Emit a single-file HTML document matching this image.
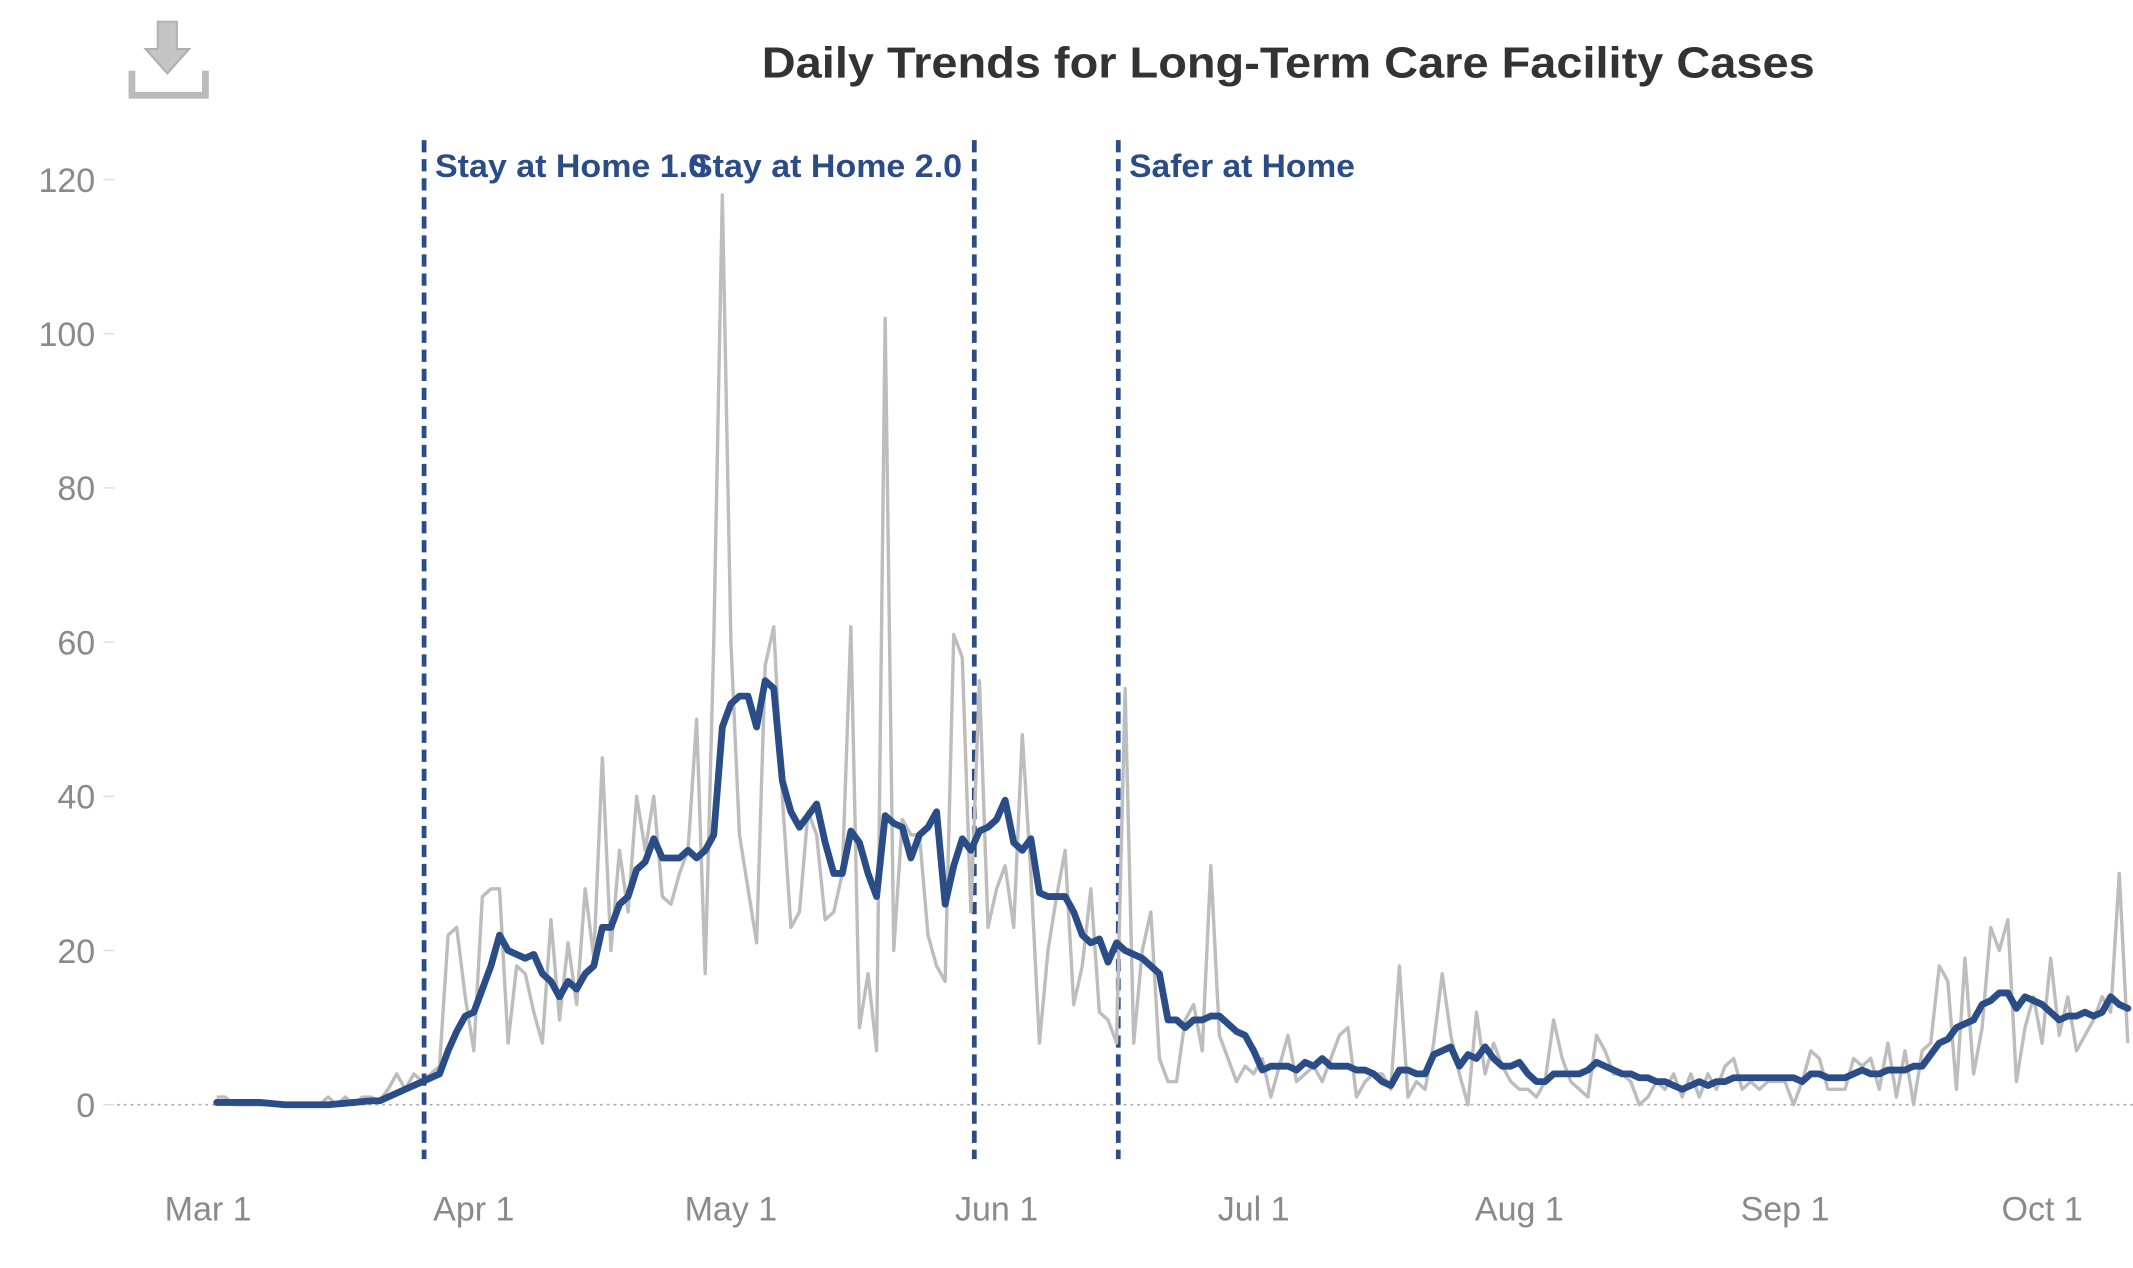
<!DOCTYPE html>
<html><head><meta charset="utf-8"><style>
html,body{margin:0;padding:0;background:#fff;}
svg{display:block;}
</style></head><body>
<svg id="chart" width="2133" height="1268" viewBox="0 0 1568 932" preserveAspectRatio="none" xmlns="http://www.w3.org/2000/svg" font-family="Liberation Sans, sans-serif">
<g>
<path d="M116 16 h14 v20 h9 l-16 18 l-16 -18 h9 z" fill="#c4c4c4" stroke="#b0b0b0" stroke-width="1.5"/>
<path d="M97 52 v18 h54 v-18" fill="none" stroke="#bbb" stroke-width="5"/>
</g>
<text x="560" y="57" textLength="774" lengthAdjust="spacingAndGlyphs" font-size="32" font-weight="bold" fill="#333">Daily Trends for Long-Term Care Facility Cases</text>
<g id="yaxis"></g>
<g id="xaxis"></g>
<g id="events"></g>
<g id="series"></g>
</svg>
<script>
const yTicks=[0,20,40,60,80,100,120];
const xTickLabels=["Mar 1","Apr 1","May 1","Jun 1","Jul 1","Aug 1","Sep 1","Oct 1"];
const xTickDays=[0,31,61,92,122,153,184,214];
const eventDays=[25.2,89.4,106.2];
const eventLabels=["Stay at Home 1.0","Stay at Home 2.0","Safer at Home"];
const dailyCases=[1,1,0,0,0,0,0,0,0,0,0,0,0,1,0,1,0,1,1,0.5,
2,4,2,4,3,4,5,22,23,14,7,27,28,28,8,18,17,12,8,24,11,21,13,28,19,45,20,33,25,40,33,40,27,26,30,33,
50,17,60,118,60,35,28,21,57,62,40,23,25,38,35,24,25,30,62,10,17,7,102,20,37,35,35,22,18,16,61,58,25,55,23,28,31,23,48,30,8,20,27,33,13,18,28,12,11,8,54,8,20,25,6,3,3,11,13,7,31,9,6,3,5,4,6,1,5,9,3,4,5,3,6,9,10,1,3,4,4,2,18,1,3,2,8,17,9,4,0,12,4,8,5,3,2,2,1,3,11,6,3,2,1,9,7,4,4,3,0,1,3,2,4,1,4,1,4,2,5,6,2,3,2,3,3,3,0,3,7,6,2,2,2,6,5,6,2,8,1,7,0,7,8,18,16,2,19,4,10,23,20,24,3,10,14,8,19,9,14,7,9,11,14,12,30,8];
const avgCases=[0.3,0.3,0.3,0.3,0.3,0.3,0.2,0.1,0,0,0,0,0,0,0.1,0.2,0.3,0.4,0.5,0.5,
1,1.5,2,2.5,3,3.5,4,
7,9.5,11.5,12,15,18,22,20,19.5,19,19.5,17,16,
14,16,15,17,18,23,23,26,27,30.5,31.5,34.5,32,32,32,33,32,
33,35,49,52,53,53,49,55,54,
42,38,36,37.5,39,34,30,30,35.5,34,30,27,37.5,36.5,36,32,35,36,38,
26,31,34.5,33,35.5,36,37,39.5,34,33,34.5,27.5,27,27,27,25,22,21,21.5,18.5,21,20,19.5,19,18,17,
11,11,10,11,11,11.5,11.5,10.5,9.5,9,7,4.5,
5,5,5,4.5,5.5,5,6,5,5,5,4.5,4.5,4,3,2.5,
4.5,4.5,4,4,6.5,7,7.5,5,6.5,6,7.5,6,5,5,5.5,4,3,3,
4,4,4,4,4.5,5.5,5,4.5,4,4,3.5,3.5,3,3,2.5,2,2.5,3,2.5,3,3,3.5,3.5,3.5,3.5,3.5,3.5,3.5,3.5,3,
4,4,3.5,3.5,3.5,4,4.5,4,4,4.5,4.5,4.5,5,5,6.5,8,8.5,10,10.5,11,13,13.5,14.5,14.5,12.5,14,13.5,13,12,11,11.5,11.5,12,11.5,12,14,13,12.5];

const NS="http://www.w3.org/2000/svg";
const X=d=>153+6.3*d;
const Y=v=>812-5.667*v;
function mk(tag,attrs,parent){const e=document.createElementNS(NS,tag);for(const k in attrs)e.setAttribute(k,attrs[k]);parent.appendChild(e);return e;}
const ya=document.getElementById('yaxis'),xa=document.getElementById('xaxis'),ev=document.getElementById('events'),se=document.getElementById('series');
yTicks.forEach(t=>{
  const tx=mk('text',{x:70,y:Y(t)+9,'text-anchor':'end','font-size':25,fill:'#8a8a8a'},ya);
  tx.textContent=t;
  
  
  const tl=mk('line',{x1:76,x2:84,y1:Y(t),y2:Y(t),stroke:'#ddd','stroke-width':1},ya);
  
  
});
const zl=mk('line',{x1:86,x2:1568,y1:Y(0),y2:Y(0),stroke:'#aaa','stroke-width':1.2,'stroke-dasharray':'2 3'},ya);


xTickLabels.forEach((l,i)=>{
  const tx=mk('text',{x:X(xTickDays[i]),y:897,'text-anchor':'middle','font-size':25,fill:'#8a8a8a'},xa);
  tx.textContent=l;
  
  
});
const labelWidths=[200,200,166];
eventDays.forEach((d,i)=>{
  const ln=mk('line',{x1:X(d),x2:X(d),y1:103,y2:852,stroke:'#2b4c86','stroke-width':3.5,'stroke-dasharray':'9 5'},ev);
  
  
});
eventDays.forEach((d,i)=>{
  const anchorEnd=(i===1);
  const tx=mk('text',{x:anchorEnd?X(d)-9:X(d)+8,y:130,'text-anchor':anchorEnd?'end':'start','font-size':24,'font-weight':'bold',fill:'#2b4c86',textLength:labelWidths[i],lengthAdjust:'spacingAndGlyphs'},ev);
  tx.textContent=eventLabels[i];
  
  
});
const gp=mk('polyline',{points:dailyCases.map((v,i)=>X(i+1)+','+Y(v)).join(' '),fill:'none',stroke:'#bdbdbd','stroke-width':2.5,'stroke-linejoin':'round'},se);


const bp=mk('polyline',{points:avgCases.map((v,i)=>X(i+1)+','+Y(v)).join(' '),fill:'none',stroke:'#2a4d87','stroke-width':5,'stroke-linejoin':'round','stroke-linecap':'round'},se);


</script>
</body></html>
